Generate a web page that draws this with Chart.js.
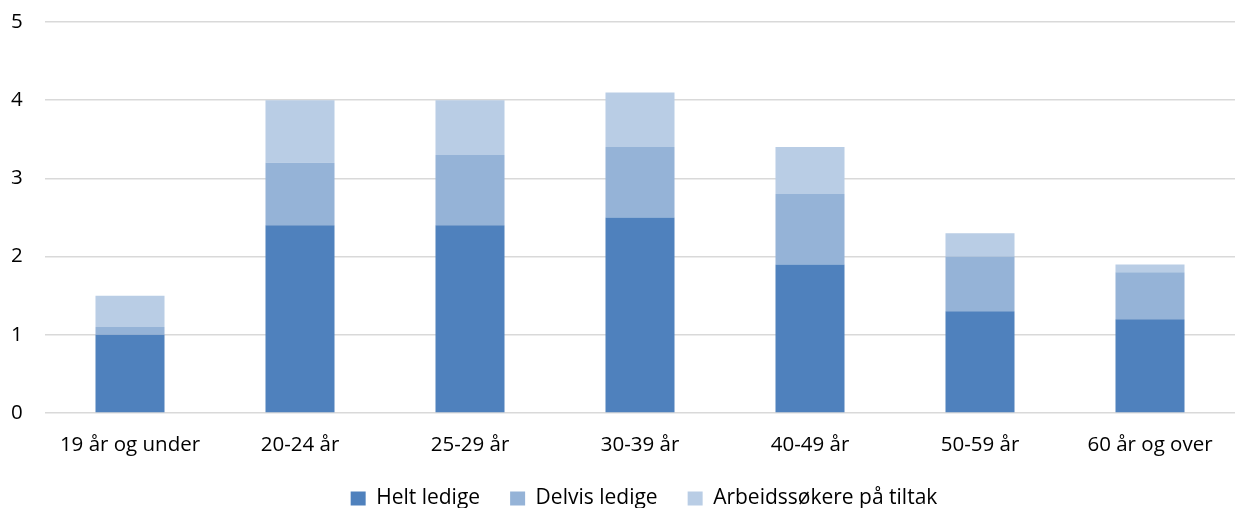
<!DOCTYPE html>
<html>
<head>
<meta charset="utf-8">
<script src="https://cdn.jsdelivr.net/npm/chart.js@4/dist/chart.umd.min.js"></script>
<style>
  html, body { margin: 0; padding: 0; background: #fff; }
  #wrap { width: 1241px; height: 508px; }
</style>
</head>
<body>
<div id="wrap"><canvas id="chart" width="1241" height="508"></canvas></div>
<script>
// --- Data ---
const categories = ['19 år og under', '20-24 år', '25-29 år', '30-39 år', '40-49 år', '50-59 år', '60 år og over'];
const heltLedige = [1.0, 2.4, 2.4, 2.5, 1.9, 1.3, 1.2];
const delvisLedige = [0.1, 0.8, 0.9, 0.9, 0.9, 0.7, 0.6];
const tiltak = [0.4, 0.8, 0.7, 0.7, 0.6, 0.3, 0.1];
const yTicks = [0, 1, 2, 3, 4, 5];

const fontFamily = "'Open Sans', sans-serif";

// nudge the legend a bit to the right, like the original
const legendShift = {
    id: 'legendShift',
    afterLayout(chart) {
        const lg = chart.legend;
        if (lg) {
            lg.left += 21;
            lg.right += 21;
        }
    }
};

const ctx = document.getElementById('chart').getContext('2d');
new Chart(ctx, {
    type: 'bar',
    data: {
        labels: categories,
        datasets: [
            { label: 'Helt ledige', data: heltLedige, backgroundColor: '#4f81bd' },
            { label: 'Delvis ledige', data: delvisLedige, backgroundColor: '#95b3d7' },
            { label: 'Arbeidssøkere på tiltak', data: tiltak, backgroundColor: '#b9cde5' }
        ]
    },
    plugins: [legendShift],
    options: {
        responsive: false,
        animation: false,
        layout: { padding: { top: 22, right: 6, left: 11, bottom: -11 } },
        datasets: {
            bar: { categoryPercentage: 1, barPercentage: 0.406, borderWidth: 0 }
        },
        scales: {
            x: {
                stacked: true,
                grid: { display: false, drawTicks: false },
                border: { display: false },
                ticks: { color: '#000', padding: 20, font: { family: fontFamily, size: 20.5 }, maxRotation: 0 },
                afterFit: (axis) => { axis.height = 45; }
            },
            y: {
                stacked: true,
                min: 0,
                max: 5,
                afterBuildTicks: (axis) => { axis.ticks = yTicks.map(v => ({ value: v })); },
                grid: { color: '#d9d9d9', lineWidth: 1.5, drawTicks: false },
                border: { display: false },
                ticks: { color: '#000', padding: 0, crossAlign: 'far', font: { family: fontFamily, size: 20.5 } },
                afterFit: (axis) => { axis.width = 34; }
            }
        },
        plugins: {
            legend: {
                position: 'bottom',
                labels: {
                    color: '#000',
                    boxWidth: 15,
                    boxHeight: 14,
                    padding: 30,
                    font: { family: fontFamily, size: 21 }
                }
            },
            tooltip: { enabled: false }
        }
    }
});
</script>
</body>
</html>
